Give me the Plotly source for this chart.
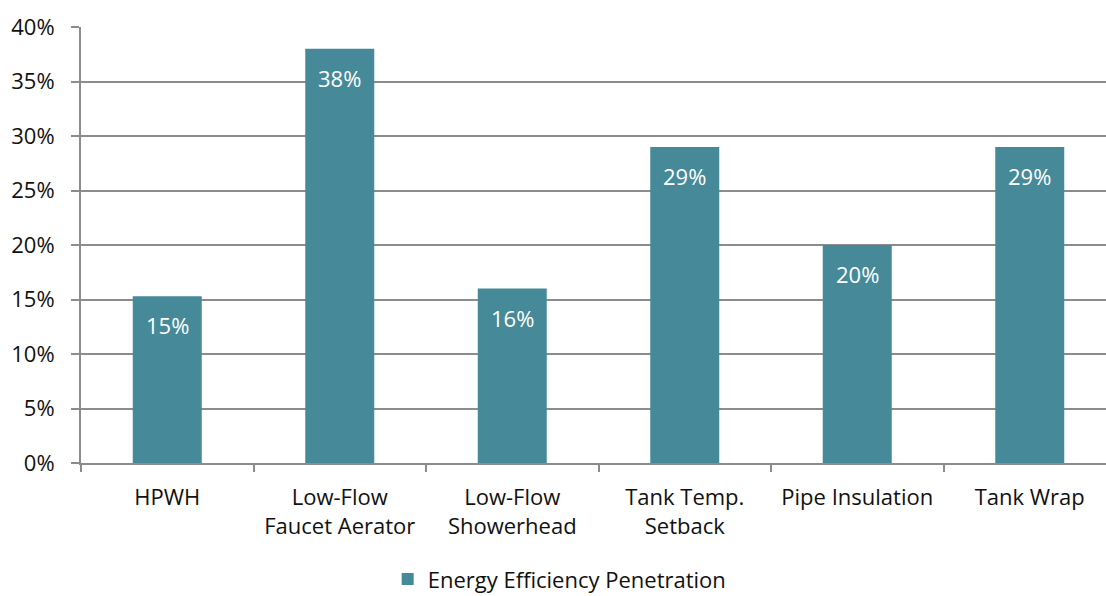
import plotly.graph_objects as go

# Share of homes with each water-heating efficiency measure installed
categories = ["HPWH", "Low-Flow<br>Faucet Aerator", "Low-Flow<br>Showerhead",
              "Tank Temp.<br>Setback", "Pipe Insulation", "Tank Wrap"]
penetration = [15.3, 38.0, 16.0, 29.0, 20.0, 29.0]
series_name = "Energy Efficiency Penetration"
y_ticks = [0, 5, 10, 15, 20, 25, 30, 35, 40]

BAR = "#468A99"
GRID = "#8C8C8C"
FONT = "Open Sans, Noto Sans, sans-serif"
TEXT = "#111111"

fig = go.Figure()
fig.add_trace(go.Bar(
    x=categories, y=penetration, name=series_name,
    marker=dict(color=BAR, line=dict(width=0)),
    width=0.4, showlegend=True,
))

# value labels just inside the top of each bar
for cat, val in zip(categories, penetration):
    fig.add_annotation(
        x=cat, y=val, text=f"{val:.0f}%", showarrow=False,
        yanchor="middle", yshift=-29,
        font=dict(family=FONT, size=22, color="white"),
    )

fig.update_layout(
    width=1106, height=596,
    margin=dict(l=81, r=0, t=27, b=133, autoexpand=False),
    paper_bgcolor="white", plot_bgcolor="white",
    font=dict(family=FONT, size=22, color=TEXT),
    bargap=0.6,
    legend=dict(orientation="h", x=0.467, xanchor="center",
                yref="container", y=0.028, yanchor="middle",
                font=dict(size=22, color=TEXT), itemwidth=30),
    xaxis=dict(
        range=[-0.5, 5.442], showline=True, linecolor=GRID, linewidth=2,
        ticks="outside", tickson="boundaries", ticklen=7, tickcolor=GRID, tickwidth=2,
        showgrid=False, ticklabelstandoff=14, automargin=False,
    ),
    yaxis=dict(
        range=[0, 40], tickvals=y_ticks, ticktext=[f"{v}%" for v in y_ticks],
        showline=True, linecolor=GRID, linewidth=2,
        ticks="outside", ticklen=8, tickcolor=GRID, tickwidth=2,
        showgrid=True, gridcolor=GRID, gridwidth=2, zeroline=False,
        ticklabelstandoff=12, automargin=False,
    ),
)

fig.write_html("out.html")
